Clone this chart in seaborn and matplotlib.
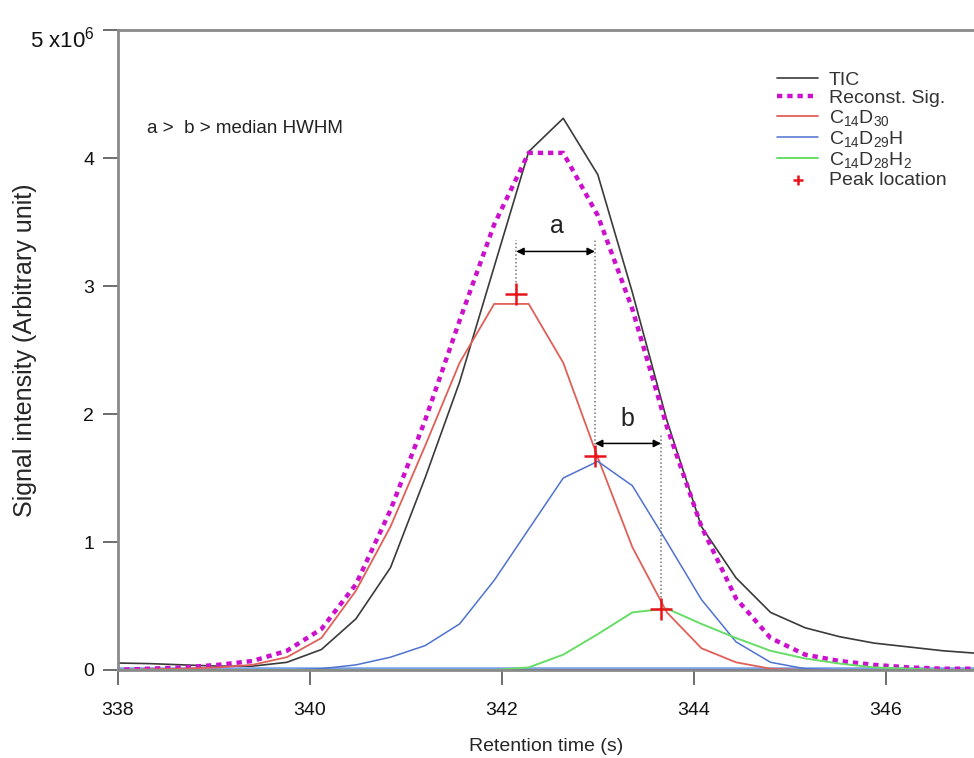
"""
Chromatogram of C14D30 isotopologues: TIC, reconstructed signal and
individual ion traces, with peak locations and HWHM comparison arrows.
"""

import numpy as np
import pandas as pd
import matplotlib
matplotlib.use("Agg")
import matplotlib.pyplot as plt
import matplotlib.transforms as mtransforms
import seaborn as sns

# --- data (signal in units of 1e6) ---
time_s = [337.96, 338.32, 338.68, 339.04, 339.40, 339.76, 340.12, 340.48,
          340.84, 341.20, 341.56, 341.92, 342.28, 342.64, 343.00, 343.36,
          343.72, 344.08, 344.44, 344.80, 345.16, 345.52, 345.88, 346.24,
          346.60, 346.96]
tic = [0.055, 0.05, 0.04, 0.03, 0.03, 0.06, 0.16, 0.40, 0.80, 1.50, 2.25,
       3.15, 4.05, 4.31, 3.87, 2.95, 1.95, 1.12, 0.72, 0.45, 0.33, 0.26,
       0.21, 0.18, 0.15, 0.13]
reconst = [0.0, 0.01, 0.02, 0.04, 0.07, 0.15, 0.32, 0.67, 1.25, 1.95, 2.73,
           3.48, 4.04, 4.04, 3.55, 2.82, 1.90, 1.12, 0.56, 0.25, 0.12, 0.07,
           0.04, 0.02, 0.01, 0.01]
c14d30 = [0.0, 0.005, 0.01, 0.02, 0.04, 0.10, 0.25, 0.62, 1.12, 1.75, 2.40,
          2.86, 2.86, 2.40, 1.66, 0.96, 0.45, 0.17, 0.06, 0.01, 0.0, 0.0,
          0.0, 0.0, 0.0, 0.0]
c14d29h = [0.0, 0.0, 0.0, 0.0, 0.0, 0.0, 0.01, 0.04, 0.10, 0.19, 0.36, 0.70,
           1.10, 1.50, 1.63, 1.44, 1.00, 0.55, 0.22, 0.06, 0.01, 0.0, 0.0,
           0.0, 0.0, 0.0]
c14d28h2 = [0.0, 0.0, 0.0, 0.0, 0.0, 0.0, 0.0, 0.0, 0.0, 0.0, 0.0, 0.0,
            0.02, 0.12, 0.28, 0.45, 0.48, 0.36, 0.25, 0.15, 0.09, 0.05, 0.02,
            0.01, 0.0, 0.0]
# minor ion traces lying on the baseline
baseline = [0.0] * len(time_s)

peak_t = [342.15, 342.97, 343.66]
peak_v = [2.94, 1.67, 0.48]

y_ticks = [0, 1, 2, 3, 4, 5]
y_labels = ["0", "1", "2", "3", "4", "5 x10$^{6}$"]
x_ticks = [338, 340, 342, 344, 346]

df = pd.DataFrame({"t": time_s, "TIC": tic, "Reconst": reconst,
                   "C14D30": c14d30, "C14D29H": c14d29h,
                   "C14D28H2": c14d28h2, "base": baseline})

sns.set_theme(style="ticks")
plt.rcParams["font.family"] = ["Liberation Sans", "DejaVu Sans"]
plt.rcParams["mathtext.fontset"] = "custom"
plt.rcParams["mathtext.rm"] = "Liberation Sans"
plt.rcParams["mathtext.it"] = "Liberation Sans:italic"

fig = plt.figure(figsize=(9.74, 7.58), dpi=100)
ax = fig.add_axes([0.1211, 0.1161, 0.8789, 0.8443])

# baseline traces
sns.lineplot(data=df, x="t", y="base", ax=ax, color="#5A8BE0", lw=4, alpha=0.8)
sns.lineplot(data=df, x="t", y="base", ax=ax, color="#1B2F8A", lw=1.2)

sns.lineplot(data=df, x="t", y="TIC", ax=ax, color="#3A3A3A", lw=1.2, label="TIC")
sns.lineplot(data=df, x="t", y="Reconst", ax=ax, color="#CC11CC", lw=3.2,
             linestyle=(0, (1.2, 1.1)), label="Reconst. Sig.")
sns.lineplot(data=df, x="t", y="C14D30", ax=ax, color="#E06058", lw=1.3,
             label="C$_{14}$D$_{30}$")
sns.lineplot(data=df, x="t", y="C14D29H", ax=ax, color="#4F72D0", lw=1.1,
             label="C$_{14}$D$_{29}$H")
sns.lineplot(data=df, x="t", y="C14D28H2", ax=ax, color="#66DD66", lw=1.4,
             label="C$_{14}$D$_{28}$H$_{2}$")
sns.scatterplot(x=peak_t, y=peak_v, ax=ax, marker="+", s=240, color="#E8141B",
                linewidth=1.8, zorder=5)
# small legend marker for the peak locations
ax.scatter([], [], marker="+", s=60, color="#E8141B", linewidth=1.8,
           label="Peak location")

# HWHM guides
guide = dict(color="#777777", lw=1.1, linestyle=(0, (1, 1.5)))
ax.plot([peak_t[0], peak_t[0]], [peak_v[0], 3.36], **guide)
ax.plot([peak_t[1], peak_t[1]], [peak_v[1], 3.36], **guide)
ax.plot([peak_t[2], peak_t[2]], [peak_v[2], 1.84], **guide)
arrow = dict(arrowstyle="<|-|>", color="black", lw=1.1, mutation_scale=11,
             shrinkA=0, shrinkB=0)
ax.annotate("", xy=(peak_t[0], 3.27), xytext=(peak_t[1], 3.27), arrowprops=arrow)
ax.annotate("", xy=(peak_t[1], 1.77), xytext=(peak_t[2], 1.77), arrowprops=arrow)
ax.text(342.57, 3.47, "a", fontsize=18, ha="center", va="center", color="#222222")
ax.text(343.31, 1.96, "b", fontsize=18, ha="center", va="center", color="#222222")
ax.text(338.3, 4.23, "a >  b > median HWHM", fontsize=13.5, ha="left",
        va="center", color="#222222")

ax.set_xlim(338, 346.92)
ax.set_ylim(0, 5)
ax.set_xticks(x_ticks)
ax.set_yticks(y_ticks)
ax.set_yticklabels(y_labels)
ax.set_xlabel("Retention time (s)", fontsize=14, labelpad=14)
ax.set_ylabel("Signal intensity (Arbitrary unit)", fontsize=18)
ax.yaxis.set_label_coords(-0.094, 0.5)

for side in ["left", "bottom", "top"]:
    ax.spines[side].set_color("#8A8A8A")
    ax.spines[side].set_linewidth(2)
ax.spines["right"].set_visible(False)
ax.tick_params(axis="both", direction="out", colors="#555555", labelcolor="#111111",
               labelsize=14, width=1.2, bottom=True, left=True, top=False)
ax.tick_params(axis="y", length=11, pad=6)
ax.tick_params(axis="x", length=11, pad=12)

# exponent label: a bit larger and shifted down like the original
top_lbl = ax.get_yticklabels()[-1]
top_lbl.set_fontsize(16)
top_lbl.set_transform(top_lbl.get_transform()
                      + mtransforms.ScaledTranslation(0, -7 / 100, fig.dpi_scale_trans))

leg = ax.legend(loc="upper right", bbox_to_anchor=(0.977, 0.948), frameon=False,
                fontsize=14, handlelength=2.1, handletextpad=0.55,
                labelspacing=0.05, borderaxespad=0)
for txt in leg.get_texts():
    txt.set_color("#333333")

fig.savefig("out.png", dpi=100, facecolor="white")
